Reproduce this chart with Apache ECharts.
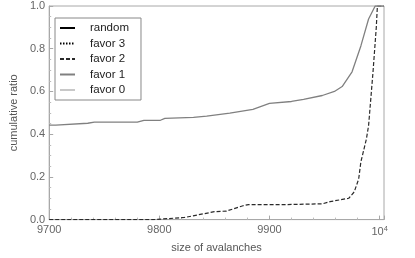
<!DOCTYPE html>
<html>
<head>
<meta charset="utf-8">
<script src="https://cdn.jsdelivr.net/npm/echarts@6/dist/echarts.min.js"></script>
<style>html,body{margin:0;padding:0;background:#fff}#c{width:415px;height:258px}</style>
</head>
<body>
<div id="c"></div>
<script>
var seriesNames = ['random', 'favor 3', 'favor 2', 'favor 1', 'favor 0'];
var favor1Size = [9700, 9706, 9735, 9741, 9780, 9786, 9801, 9805, 9831, 9843, 9864, 9885, 9900, 9920, 9931, 9948, 9959, 9966, 9975, 9983, 9990, 9996, 10004];
var favor1Ratio = [0.442, 0.442, 0.451, 0.456, 0.456, 0.465, 0.465, 0.474, 0.479, 0.484, 0.498, 0.516, 0.544, 0.553, 0.563, 0.581, 0.600, 0.623, 0.692, 0.813, 0.939, 1.0, 1.0];
var favor2Size = [9700, 9795, 9823, 9850, 9861, 9876, 9881, 9913, 9948, 9955, 9972, 9977, 9981, 9983, 9988, 9990, 9994, 9997, 9998, 10004];
var favor2Ratio = [0, 0, 0.01, 0.037, 0.04, 0.065, 0.07, 0.07, 0.074, 0.084, 0.10, 0.13, 0.19, 0.27, 0.377, 0.44, 0.69, 0.90, 1.0, 1.0];
var xTicks = [9700, 9800, 9900, 10000];
var yTicks = [0, 0.2, 0.4, 0.6, 0.8, 1.0];

function pairs(xs, ys) { return xs.map(function (x, i) { return [x, ys[i]]; }); }

var chart = echarts.init(document.getElementById('c'), null, {renderer: 'canvas'});
var font = 'Liberation Sans, Arial, sans-serif';
chart.setOption({
  animation: false,
  grid: {left: 36, right: 31, top: 6, bottom: 37, show: true, borderColor: '#a8a8a8', borderWidth: 1},
  legend: {
    orient: 'vertical', left: 55, top: 18,
    data: seriesNames,
    itemWidth: 15, itemHeight: 10, itemGap: 3.5,
    padding: [4, 12, 4, 4],
    borderColor: '#888', borderWidth: 1, backgroundColor: '#fff',
    itemStyle: {opacity: 0},
    textStyle: {fontFamily: font, fontSize: 11.5, color: '#222', padding: [0, 0, 0, 10]}
  },
  xAxis: {
    type: 'value', min: 9700, max: 10004, interval: 100,
    name: 'size of avalanches', nameLocation: 'middle', nameGap: 22,
    nameTextStyle: {fontFamily: font, fontSize: 11, color: '#555'},
    axisLine: {lineStyle: {color: '#a8a8a8'}},
    axisTick: {inside: true, length: 4, lineStyle: {color: '#a8a8a8'}},
    minorTick: {show: true, splitNumber: 5, length: 2, lineStyle: {color: '#bbb'}},
    splitLine: {show: false},
    axisLabel: {
      margin: 5, showMaxLabel: false, fontFamily: font, fontSize: 11, color: '#666',
      formatter: function (v) { return xTicks.indexOf(v) < 0 ? '' : (v === 10000 ? '10{s|4}' : String(v)); },
      rich: {s: {fontSize: 7.5, color: '#666', fontFamily: font, verticalAlign: 'top', padding: [0, 0, 6, 0]}}
    }
  },
  yAxis: {
    type: 'value', min: 0, max: 1, interval: 0.2,
    name: 'cumulative ratio', nameLocation: 'middle', nameGap: 23,
    nameTextStyle: {fontFamily: font, fontSize: 11, color: '#555'},
    axisLine: {show: true, lineStyle: {color: '#a8a8a8'}},
    axisTick: {show: true, inside: true, length: 4, lineStyle: {color: '#a8a8a8'}},
    minorTick: {show: true, splitNumber: 4, length: 2, lineStyle: {color: '#bbb'}},
    splitLine: {show: false},
    axisLabel: {
      margin: 4, fontFamily: font, fontSize: 11, color: '#666',
      formatter: function (v) { return yTicks.indexOf(v) < 0 ? '' : v.toFixed(1); }
    }
  },
  series: [
    {name: 'random', type: 'line', symbol: 'none', data: [], lineStyle: {color: '#000', width: 2}, itemStyle: {color: '#000'}},
    {name: 'favor 3', type: 'line', symbol: 'none', data: [], lineStyle: {color: '#000', width: 1, type: [1.5, 1.5]}, itemStyle: {color: '#000'}},
    {name: 'favor 2', type: 'line', symbol: 'none', data: pairs(favor2Size, favor2Ratio), lineStyle: {color: '#2a2a2a', width: 1.2, type: [4, 2]}, itemStyle: {color: '#2a2a2a'}},
    {name: 'favor 1', type: 'line', symbol: 'none', data: pairs(favor1Size, favor1Ratio), lineStyle: {color: '#808080', width: 1.3}, itemStyle: {color: '#808080'}},
    {name: 'favor 0', type: 'line', symbol: 'none', data: [], lineStyle: {color: '#c8c8c8', width: 1.3}, itemStyle: {color: '#c8c8c8'}}
  ]
});
</script>
</body>
</html>
